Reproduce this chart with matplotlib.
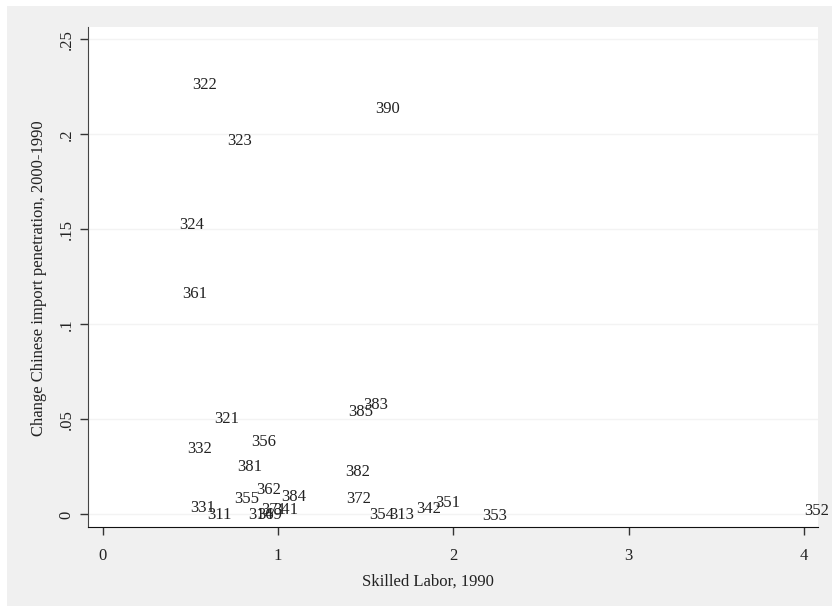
import numpy as np
import matplotlib.pyplot as plt
from matplotlib.patches import Rectangle

plt.rcParams['font.family'] = ['Liberation Serif', 'DejaVu Serif']

# industry codes (ISIC rev.2, 3-digit) and their positions
codes = ['322', '390', '323', '324', '361', '321', '332', '356', '381', '385',
         '383', '382', '372', '354', '313', '342', '351', '353', '352', '331',
         '311', '355', '362', '384', '314', '369', '371', '341']
skilled = [0.509, 1.553, 0.709, 0.435, 0.452, 0.636, 0.479, 0.844, 0.768, 1.398,
           1.487, 1.382, 1.388, 1.521, 1.635, 1.787, 1.896, 2.162, 4.000, 0.498,
           0.597, 0.749, 0.874, 1.017, 0.831, 0.880, 0.903, 0.972]
chg_import = [0.2260, 0.2133, 0.1965, 0.1523, 0.1160, 0.0501, 0.0345, 0.0383, 0.0251, 0.0538,
              0.0574, 0.0225, 0.0080, -0.0003, -0.0003, 0.0027, 0.0062, -0.0006, 0.0018, 0.0036,
              -0.0003, 0.0082, 0.0129, 0.0094, -0.0003, -0.0003, 0.0024, 0.0024]

xticks = [0, 1, 2, 3, 4]
yticks = [0, 0.05, 0.1, 0.15, 0.2, 0.25]
ytick_labels = ['0', '.05', '.1', '.15', '.2', '.25']

W, H = 832, 606
fig = plt.figure(figsize=(W / 100, H / 100), dpi=100)
fig.patch.set_facecolor('white')
fig.add_artist(Rectangle((7 / W, 0), 1, 1 - 6 / H, transform=fig.transFigure,
                         facecolor='#f0f0f0', edgecolor='none', zorder=0))

ax = fig.add_axes([88 / W, 79 / H, 730 / W, 500 / H])
ax.set_facecolor('white')

for x, y, c in zip(skilled, chg_import, codes):
    ax.text(x, y, c, ha='left', va='center', fontsize=12, color='#222222')

ax.set_xlim(-0.084, 4.08)
ax.set_ylim(-0.0066, 0.2565)

ax.set_xticks(xticks)
ax.set_xticklabels([str(t) for t in xticks])
ax.set_yticks(yticks)
ax.set_yticklabels(ytick_labels, rotation=90, va='center')
ax.tick_params(axis='both', direction='out', length=5.8, width=1, labelsize=12,
               color='#333333', labelcolor='#222222')
ax.tick_params(axis='x', pad=9)
ax.tick_params(axis='y', pad=4)
ax.grid(axis='y', color='#f3f3f3', linewidth=1)
ax.set_axisbelow(True)

for s in ['top', 'right']:
    ax.spines[s].set_visible(False)
ax.spines['left'].set_color('#444444')
ax.spines['bottom'].set_color('#111111')

# axis titles placed like Stata does
fig.text(428 / W, 1 - 582 / H, 'Skilled Labor, 1990', fontsize=12,
         color='#222222', ha='center', va='center')
fig.text(39 / W, 1 - 278 / H, 'Change Chinese import penetration, 2000-1990',
         fontsize=12, color='#222222', ha='center', va='center', rotation=90)

fig.savefig('out.png', dpi=100, facecolor=fig.get_facecolor())
